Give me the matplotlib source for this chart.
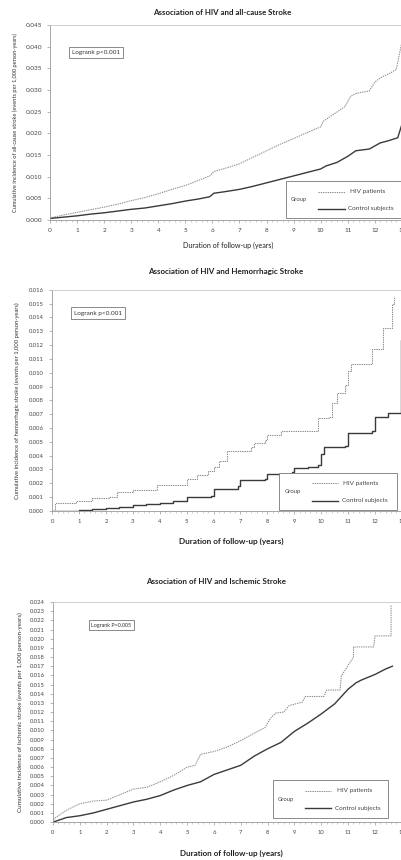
import matplotlib

matplotlib.use("Agg")
import matplotlib.pyplot as plt
from matplotlib.patches import Rectangle
from matplotlib.ticker import MultipleLocator, FormatStrFormatter

plt.rcParams["font.family"] = ["Lato", "DejaVu Sans"]

# --- data ----------------------------------------------------------------
TITLES = [
    "Association of HIV and all-cause Stroke",
    "Association of HIV and Hemorrhagic Stroke",
    "Association of HIV and Ischemic Stroke",
]
YLABELS = [
    "Cumulative incidence of all-cause stroke (events per 1,000 person-years)",
    "Cumulative incidence of hemorrhagic stroke (events per 1,000 person-years)",
    "Cumulative incidence of ischemic stroke (events per 1,000 person-years)",
]
XLABEL = "Duration of follow-up (years)"
LOGRANK = ["Logrank p<0.001", "Logrank p<0.001", "Logrank P=0.005"]
GROUPS = ["HIV patients", "Control subjects"]

# all-cause stroke
all_hiv_x = [0, 0.5, 1, 1.5, 2, 2.5, 3, 3.5, 4, 4.5, 5, 5.5, 5.9, 6.05, 6.5, 7, 7.5,
             8, 8.5, 9, 9.5, 10, 10.1, 10.5, 10.9, 11.1, 11.3, 11.8, 12.0, 12.2,
             12.6, 12.8, 13.0]
all_hiv_y = [0.0005, 0.0012, 0.0018, 0.0024, 0.0030, 0.0037, 0.0045, 0.0052, 0.0061,
             0.0071, 0.0080, 0.0092, 0.0102, 0.0112, 0.0120, 0.0130, 0.0145, 0.0160,
             0.0175, 0.0188, 0.0202, 0.0215, 0.0228, 0.0245, 0.0262, 0.0285, 0.0292,
             0.0298, 0.0318, 0.0328, 0.0340, 0.0348, 0.0410]
all_ctl_x = [0, 0.5, 1, 1.5, 2, 2.5, 3, 3.5, 4, 4.5, 5, 5.5, 5.9, 6.05, 6.5, 7, 7.5,
             8, 8.5, 9, 9.5, 10, 10.2, 10.6, 11, 11.3, 11.8, 12.2, 12.5, 12.85, 13.0]
all_ctl_y = [0.0004, 0.0007, 0.0010, 0.0014, 0.0017, 0.0021, 0.0025, 0.0028, 0.0033,
             0.0038, 0.0044, 0.0049, 0.0054, 0.0062, 0.0066, 0.0071, 0.0078, 0.0086,
             0.0094, 0.0102, 0.0110, 0.0118, 0.0125, 0.0133, 0.0147, 0.0160, 0.0164,
             0.0178, 0.0183, 0.0190, 0.0220]

# hemorrhagic stroke (step functions)
hem_hiv_x = [0, 0.1, 0.9, 1.5, 2.1, 2.4, 3.0, 3.9, 5.0, 5.4, 5.8, 6.0, 6.2, 6.5, 7.4,
             7.5, 7.9, 8.0, 8.5, 9.9, 10.3, 10.4, 10.6, 10.9, 11.0, 11.1, 11.9, 12.3,
             12.65, 12.7]
hem_hiv_y = [0, 0.0006, 0.0007, 0.0009, 0.0010, 0.0014, 0.0015, 0.0019, 0.0023, 0.0026,
             0.0029, 0.0032, 0.0036, 0.0043, 0.0046, 0.0049, 0.0051, 0.0055, 0.0058,
             0.0067, 0.0068, 0.0078, 0.0085, 0.0091, 0.0101, 0.0106, 0.0117, 0.0132,
             0.0150, 0.0155]
hem_ctl_x = [0, 1.0, 1.5, 2.0, 2.5, 3.0, 3.5, 4.0, 4.5, 5.0, 5.9, 6.0, 6.9, 7.0, 7.9,
             8.0, 8.9, 9.0, 9.5, 9.9, 10.0, 10.1, 10.9, 11.0, 11.9, 12.0, 12.5, 12.97,
             13.0]
hem_ctl_y = [0, 0.00005, 0.0001, 0.0002, 0.0003, 0.0004, 0.0005, 0.0006, 0.0007, 0.0010,
             0.0011, 0.0016, 0.0018, 0.0022, 0.0023, 0.0027, 0.0028, 0.0031, 0.0032,
             0.0033, 0.0041, 0.0046, 0.0047, 0.0056, 0.0058, 0.0068, 0.0071, 0.0124,
             0.0124]

# ischemic stroke
isc_hiv_x = [0, 0.05, 0.5, 1, 1.5, 2, 2.5, 3, 3.5, 4, 4.5, 5, 5.3, 5.5, 6, 6.5, 7, 7.5,
             7.9, 8.1, 8.3, 8.6, 8.8, 9.3, 9.4, 10.1, 10.2, 10.7, 10.75, 10.9, 11.0,
             11.2, 11.2, 11.95, 12.0, 12.6, 12.6]
isc_hiv_y = [0, 0.0004, 0.0013, 0.0020, 0.0023, 0.0024, 0.0030, 0.0036, 0.0038, 0.0044,
             0.0051, 0.0060, 0.0062, 0.0074, 0.0077, 0.0082, 0.0089, 0.0097, 0.0103,
             0.0113, 0.0119, 0.0120, 0.0127, 0.0131, 0.0137, 0.0137, 0.0144, 0.0144,
             0.0160, 0.0166, 0.0171, 0.0180, 0.0191, 0.0191, 0.0203, 0.0203, 0.0237]
isc_ctl_x = [0, 0.5, 1, 1.5, 2, 2.5, 3, 3.5, 4, 4.5, 5, 5.5, 6, 6.5, 7, 7.5, 8, 8.5, 9,
             9.5, 10, 10.5, 11, 11.3, 11.5, 12, 12.4, 12.65]
isc_ctl_y = [0, 0.0005, 0.0007, 0.0010, 0.0014, 0.0018, 0.0022, 0.0025, 0.0029, 0.0035,
             0.0040, 0.0044, 0.0052, 0.0057, 0.0062, 0.0072, 0.0080, 0.0087, 0.0099,
             0.0108, 0.0118, 0.0129, 0.0145, 0.0152, 0.0155, 0.0161, 0.0167, 0.0170]

HIV_COLOR = "#8c8c8c"
CTL_COLOR = "#3a3a3a"
TXT = "#444444"


def panel(fig, rect, data, ymax, ystep, yfmt, title, title_xy, title_fs, ylabel,
          ylabel_x, ylabel_fs, xlabel_xy, xlabel_kw, logrank, logrank_xy, logrank_fs,
          legend_rect, tick_fs=4.2, steps=(False, False)):
    ax = fig.add_axes(rect)
    (hx, hy), (cx, cy) = data
    ax.plot(hx, hy, color=HIV_COLOR, lw=0.75, dashes=(1.3, 0.9),
            drawstyle="steps-post" if steps[0] else "default")
    ax.plot(cx, cy, color=CTL_COLOR, lw=1.0,
            drawstyle="steps-post" if steps[1] else "default")
    ax.set_xlim(0, 13)
    ax.set_ylim(0, ymax)
    ax.xaxis.set_major_locator(MultipleLocator(1))
    ax.xaxis.set_minor_locator(MultipleLocator(0.2))
    ax.yaxis.set_major_locator(MultipleLocator(ystep))
    if yfmt:
        ax.yaxis.set_major_formatter(FormatStrFormatter(yfmt))
    for s in ax.spines.values():
        s.set_color("#c8c8c8"); s.set_linewidth(0.6)
    ax.spines["left"].set_color("#999999")
    ax.spines["bottom"].set_color("#999999")
    ax.tick_params(which="major", length=2, width=0.5, color="#999999",
                   labelsize=tick_fs, labelcolor=TXT, pad=4)
    ax.tick_params(which="minor", length=1.2, width=0.4, color="#aaaaaa")
    ax.tick_params(axis="y", which="minor", length=0)

    fig.text(title_xy[0], title_xy[1], title, ha="center", va="center",
             fontsize=title_fs, fontweight="bold", color="#222222")
    fig.text(ylabel_x, rect[1] + rect[3] / 2, ylabel, rotation=90, ha="center",
             va="center", fontsize=ylabel_fs, color="#333333")
    fig.text(xlabel_xy[0], xlabel_xy[1], XLABEL, ha="center", va="center",
             color="#222222", **xlabel_kw)

    ax.text(logrank_xy[0], logrank_xy[1], logrank, transform=ax.transAxes,
            fontsize=logrank_fs, va="center", color="#333333",
            bbox=dict(boxstyle="square,pad=0.5", fc="white", ec="#777777", lw=0.6))

    # legend box: "Group" on the left, two entries on the right
    x0, y0, x1, y1 = legend_rect
    ax.add_patch(Rectangle((x0, y0), x1 - x0, y1 - y0, transform=ax.transAxes,
                           fill=True, facecolor="white", edgecolor="#777777",
                           lw=0.6, zorder=4))
    ax.text(x0 + 0.015, (y0 + y1) / 2, "Group", transform=ax.transAxes,
            fontsize=4.2, va="center", color=TXT, zorder=5)
    lx = x0 + 0.093
    ya = y0 + (y1 - y0) * 0.72
    yb = y0 + (y1 - y0) * 0.25
    ax.plot([lx, lx + 0.075], [ya, ya], transform=ax.transAxes, color=HIV_COLOR,
            lw=0.75, dashes=(1.3, 0.9), zorder=5)
    ax.plot([lx, lx + 0.075], [yb, yb], transform=ax.transAxes, color=CTL_COLOR,
            lw=1.0, zorder=5)
    ax.text(lx + 0.09, ya, GROUPS[0], transform=ax.transAxes, fontsize=4.6,
            va="center", color=TXT, zorder=5)
    ax.text(lx + 0.085, yb, GROUPS[1], transform=ax.transAxes, fontsize=4.6,
            va="center", color=TXT, zorder=5)
    return ax


fig = plt.figure(figsize=(4.01, 8.60), dpi=100)

panel(fig, [0.125, 0.744, 0.877, 0.227],
      ((all_hiv_x, all_hiv_y), (all_ctl_x, all_ctl_y)),
      0.045, 0.005, None, TITLES[0], (0.554, 0.986), 5.7, YLABELS[0], 0.038, 4.1,
      (0.568, 0.715), dict(fontsize=5.1), LOGRANK[0], (0.063, 0.86), 4.6,
      (0.67, 0.01, 0.997, 0.20), tick_fs=4.6)
panel(fig, [0.130, 0.406, 0.872, 0.257],
      ((hem_hiv_x, hem_hiv_y), (hem_ctl_x, hem_ctl_y)),
      0.016, 0.001, "%.3f", TITLES[1], (0.562, 0.684), 5.8, YLABELS[1], 0.043, 4.2,
      (0.576, 0.371), dict(fontsize=5.9, fontweight="bold"), LOGRANK[1], (0.063, 0.895),
      4.6, (0.65, 0.005, 0.985, 0.17), steps=(True, True))
panel(fig, [0.132, 0.044, 0.870, 0.256],
      ((isc_hiv_x, isc_hiv_y), (isc_ctl_x, isc_ctl_y)),
      0.024, 0.001, "%.3f", TITLES[2], (0.538, 0.324), 5.8, YLABELS[2], 0.05, 4.5,
      (0.578, 0.008), dict(fontsize=5.8, fontweight="bold"), LOGRANK[2], (0.11, 0.895),
      3.9, (0.63, 0.02, 0.96, 0.19))

fig.savefig("out.png", dpi=100)
